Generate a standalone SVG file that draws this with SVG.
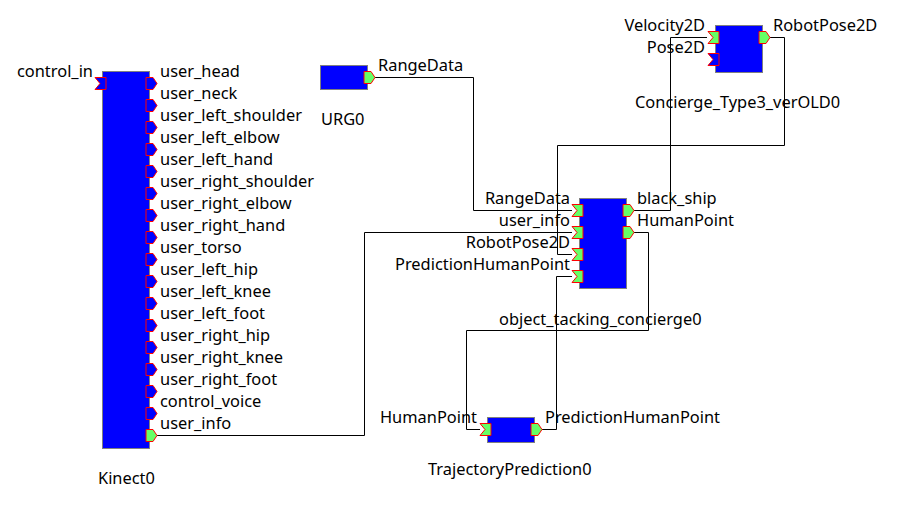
<svg xmlns="http://www.w3.org/2000/svg" xmlns:xlink="http://www.w3.org/1999/xlink" width="912" height="518" viewBox="0 0 912 518">
<style>
text{font-family:"Noto Sans","Open Sans","DejaVu Sans",sans-serif;font-size:16.4px;fill:#000}
.r{text-anchor:end}
.body{fill:#0000ff;stroke:#808080;stroke-width:1}
.pb{fill:#0000ff;stroke:#ff0000;stroke-width:1}
.pg{fill:#66ff66;stroke:#ff0000;stroke-width:1}
.wire{fill:none;stroke:#000;stroke-width:1}
</style>
<defs>
<path id="pin" d="M0,0 H11 V12 H0 L5,6 Z"/>
<path id="pout" d="M0,0 H7 L11,6 L7,12 H0 Z"/>
</defs>
<rect width="912" height="518" fill="#fff"/>
<g id="connectors">
<path class="wire" d="M375,77.5 H473.5 V210.5 H572"/>
<path class="wire" d="M634,210.5 H670.5 V37.5 H707"/>
<path class="wire" d="M770,37.5 H784.5 V145.5 H557.5 V254.5 H572"/>
<path class="wire" d="M157,435.5 H364.5 V232.5 H572"/>
<path class="wire" d="M634,232.5 H648.5 V330.5 H466.5 V429.5 H480"/>
<path class="wire" d="M542,429.5 H556.5 V276.5 H572"/>
</g>
<g id="Kinect0">
<rect class="body" x="102.5" y="71.5" width="47" height="377"/>
<use xlink:href="#pin" class="pb" x="95" y="77.5"/>
<text class="r" x="93" y="77">control_in</text>
<use xlink:href="#pout" class="pb" x="146" y="77.5"/>
<use xlink:href="#pout" class="pb" x="146" y="99.5"/>
<use xlink:href="#pout" class="pb" x="146" y="121.5"/>
<use xlink:href="#pout" class="pb" x="146" y="143.5"/>
<use xlink:href="#pout" class="pb" x="146" y="165.5"/>
<use xlink:href="#pout" class="pb" x="146" y="187.5"/>
<use xlink:href="#pout" class="pb" x="146" y="209.5"/>
<use xlink:href="#pout" class="pb" x="146" y="231.5"/>
<use xlink:href="#pout" class="pb" x="146" y="253.5"/>
<use xlink:href="#pout" class="pb" x="146" y="275.5"/>
<use xlink:href="#pout" class="pb" x="146" y="297.5"/>
<use xlink:href="#pout" class="pb" x="146" y="319.5"/>
<use xlink:href="#pout" class="pb" x="146" y="341.5"/>
<use xlink:href="#pout" class="pb" x="146" y="363.5"/>
<use xlink:href="#pout" class="pb" x="146" y="385.5"/>
<use xlink:href="#pout" class="pb" x="146" y="407.5"/>
<use xlink:href="#pout" class="pg" x="146" y="429.5"/>
<text x="160" y="77">user_head</text>
<text x="160" y="99">user_neck</text>
<text x="160" y="121">user_left_shoulder</text>
<text x="160" y="143">user_left_elbow</text>
<text x="160" y="165">user_left_hand</text>
<text x="160" y="187">user_right_shoulder</text>
<text x="160" y="209">user_right_elbow</text>
<text x="160" y="231">user_right_hand</text>
<text x="160" y="253">user_torso</text>
<text x="160" y="275">user_left_hip</text>
<text x="160" y="297">user_left_knee</text>
<text x="160" y="319">user_left_foot</text>
<text x="160" y="341">user_right_hip</text>
<text x="160" y="363">user_right_knee</text>
<text x="160" y="385">user_right_foot</text>
<text x="160" y="407">control_voice</text>
<text x="160" y="429">user_info</text>
<text x="98" y="484">Kinect0</text>
</g>
<g id="URG0">
<rect class="body" x="320.5" y="65.5" width="47" height="24"/>
<use xlink:href="#pout" class="pg" x="364" y="71.5"/>
<text x="378" y="71">RangeData</text>
<text x="321" y="125">URG0</text>
</g>
<g id="object_tacking_concierge0">
<rect class="body" x="579.5" y="198.5" width="47" height="90"/>
<use xlink:href="#pin" class="pg" x="572" y="204.5"/>
<use xlink:href="#pin" class="pg" x="572" y="226.5"/>
<use xlink:href="#pin" class="pg" x="572" y="248.5"/>
<use xlink:href="#pin" class="pg" x="572" y="270.5"/>
<use xlink:href="#pout" class="pg" x="623" y="204.5"/>
<use xlink:href="#pout" class="pg" x="623" y="226.5"/>
<text class="r" x="570" y="204">RangeData</text>
<text class="r" x="570" y="226">user_info</text>
<text class="r" x="570" y="248">RobotPose2D</text>
<text class="r" x="570" y="270">PredictionHumanPoint</text>
<text x="637" y="204">black_ship</text>
<text x="637" y="226">HumanPoint</text>
<text x="499" y="325">object_tacking_concierge0</text>
</g>
<g id="Concierge_Type3_verOLD0">
<rect class="body" x="715.5" y="25.5" width="47" height="47"/>
<use xlink:href="#pin" class="pg" x="708" y="31.5"/>
<use xlink:href="#pin" class="pb" x="708" y="53.5"/>
<use xlink:href="#pout" class="pg" x="759" y="31.5"/>
<text class="r" x="705" y="31">Velocity2D</text>
<text class="r" x="705" y="53">Pose2D</text>
<text x="773" y="31">RobotPose2D</text>
<text x="635" y="108">Concierge_Type3_verOLD0</text>
</g>
<g id="TrajectoryPrediction0">
<rect class="body" x="487.5" y="417.5" width="47" height="25"/>
<use xlink:href="#pin" class="pg" x="480" y="423.5"/>
<use xlink:href="#pout" class="pg" x="531" y="423.5"/>
<text class="r" x="477" y="423">HumanPoint</text>
<text x="545" y="423">PredictionHumanPoint</text>
<text x="428" y="475">TrajectoryPrediction0</text>
</g>
</svg>
